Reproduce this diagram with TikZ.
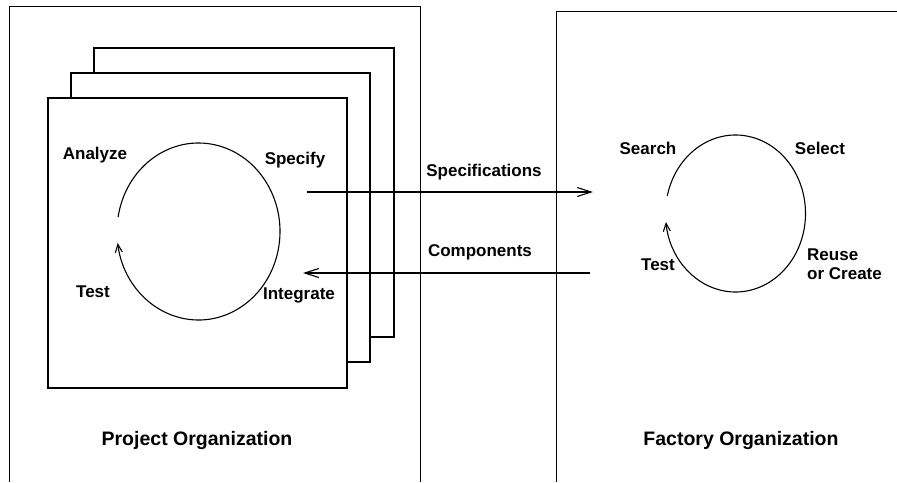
\documentclass[tikz,border=0pt]{standalone}
\usepackage{fontspec}
\setmainfont{Liberation Sans}
\usetikzlibrary{arrows.meta}
\begin{document}
\begin{tikzpicture}[x=1pt,y=-1pt,
  frame/.style={line width=1pt},
  sheet/.style={line width=1.1pt, fill=white},
  cycle/.style={line width=1.1pt, -{Straight Barb[length=8pt,width=7pt]}},
  flow/.style={line width=1.1pt, -{Straight Barb[length=14pt,width=9pt]}},
  lbl/.style={inner sep=0pt, font=\fontsize{17}{19}\selectfont\bfseries},
  title/.style={inner sep=0pt, font=\fontsize{19.5}{22}\selectfont\bfseries}]
\useasboundingbox (0,0) rectangle (897,482);

% the two organisation frames (open at the bottom and right)
\draw[frame] (9,482) -- (9,6.5) -- (420,6.5) -- (420,482);
\draw[frame] (556,482) -- (556,11) -- (897,11);

% stack of project sheets, back to front
\draw[sheet] (94,48) rectangle (394,337);
\draw[sheet] (71,73) rectangle (370,362);
\draw[sheet] (48,98) rectangle (347,388);

% project life cycle
\draw[cycle] (198.5,231.5) ++(189.4:81.5 and 88.5)
  arc[start angle=189.4, end angle=532.5, x radius=81.5, y radius=88.5];

% factory cycle
\draw[cycle] (735.5,213.5) ++(192.9:70 and 78.5)
  arc[start angle=192.9, end angle=533.8, x radius=70, y radius=78.5];

% project labels
\node[lbl] (analyze) at (95,155) {Analyze};
\node[lbl] (specify) at (295,160) {Specify};
\node[lbl] (testP) at (93,292) {Test};
\node[lbl] (integrate) at (299,295) {Integrate};
\node[title] (project) at (197,440) {Project Organization};

% factory labels
\node[lbl] (search) at (648,148) {Search};
\node[lbl] (select) at (820,148) {Select};
\node[lbl] (testF) at (658,265) {Test};
\node[lbl, align=left, anchor=west] (reuse) at (807,264.5) {Reuse\\or Create};
\node[title] (factory) at (741,440) {Factory Organization};

% exchanges between the organisations
\node[lbl] (specs) at (484,172) {Specifications};
\node[lbl] (comps) at (480,252) {Components};
\coordinate (specFrom) at (307,192);
\coordinate (specTo) at (593,192);
\coordinate (compFrom) at (590,273);
\coordinate (compTo) at (303,273);
\draw[flow] (specFrom) -- (specTo);
\draw[flow] (compFrom) -- (compTo);
\end{tikzpicture}
\end{document}
